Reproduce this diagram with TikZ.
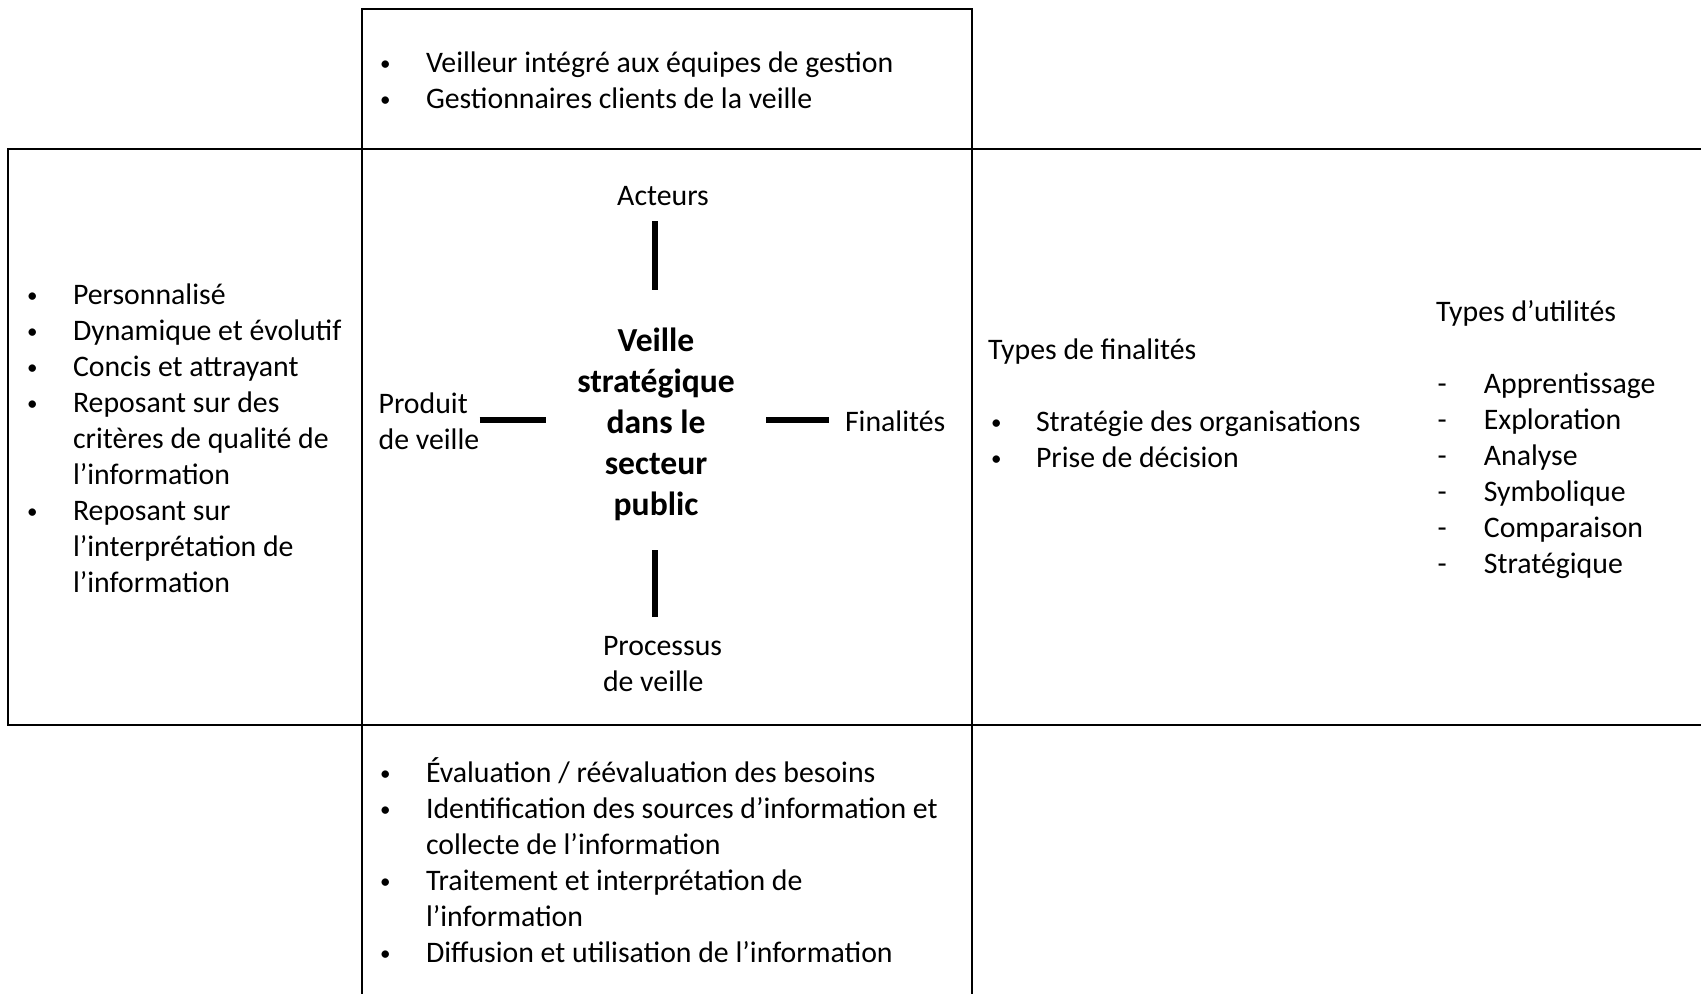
\documentclass[tikz,border=0pt]{standalone}
\usepackage{fontspec}
\setmainfont{Carlito}
\newcommand{\txt}{\fontsize{14.9}{18}\selectfont}
\newcommand{\ttl}{\fontsize{16.8}{20.5}\selectfont\bfseries}
\newcommand{\bl}{\raisebox{1pt}{\fontsize{10.5}{12}\selectfont\textbullet}}
\begin{document}
\begin{tikzpicture}[x=0.5pt,y=-0.5pt,
  frame/.style={line width=1pt, line cap=rect},
  bar/.style={line width=2.6pt},
  lbl/.style={inner sep=0pt, outer sep=0pt, anchor=base west, font=\txt},
  mid/.style={inner sep=0pt, outer sep=0pt, anchor=base, font=\txt},
]
\useasboundingbox (0,0) rectangle (1701,993);

% grid of frames
\draw[frame] (362,993) -- (362,9) -- (972,9) -- (972,993);
\draw[frame] (1701,149) -- (8,149) -- (8,725) -- (1701,725);

% top box: actors
\node[lbl] (acteurslist) at (380,72) {\begin{tabular}[t]{@{}p{23pt}@{}l@{}}
\bl & Veilleur intégré aux équipes de gestion\\
\bl & Gestionnaires clients de la veille
\end{tabular}};

% left box: product
\node[lbl] (produitlist) at (27,304) {\begin{tabular}[t]{@{}p{23pt}@{}l@{}}
\bl & Personnalisé\\
\bl & Dynamique et évolutif\\
\bl & Concis et attrayant\\
\bl & Reposant sur des\\
    & critères de qualité de\\
    & l’information\\
\bl & Reposant sur\\
    & l’interprétation de\\
    & l’information
\end{tabular}};

% centre
\node[inner sep=0pt, anchor=base, font=\ttl] (titre) at (656,351) {\begin{tabular}[t]{@{}c@{}}
Veille\\ stratégique\\ dans le\\ secteur\\ public
\end{tabular}};
\node[mid] (acteurs) at (663,205) {Acteurs};
\node[lbl] (produit) at (378.6,413.5) {\begin{tabular}[t]{@{}l@{}}Produit\\ de veille\end{tabular}};
\node[lbl] (finalites) at (845,431) {Finalités};
\node[lbl] (processus) at (603,655.5) {\begin{tabular}[t]{@{}l@{}}Processus\\ de veille\end{tabular}};

\coordinate (bt1) at (655,221); \coordinate (bt2) at (655,290);
\coordinate (bb1) at (655,550); \coordinate (bb2) at (655,617);
\coordinate (bl1) at (479.5,420); \coordinate (bl2) at (545.6,420);
\coordinate (br1) at (766,420); \coordinate (br2) at (829,420);
\draw[bar] (bt1) -- (bt2);
\draw[bar] (bb1) -- (bb2);
\draw[bar] (bl1) -- (bl2);
\draw[bar] (br1) -- (br2);

% right region: purposes and utilities
\node[lbl] (typesfin) at (988,359) {Types de finalités};
\node[lbl] (finlist) at (991,431) {\begin{tabular}[t]{@{}p{22.5pt}@{}l@{}}
\bl & Stratégie des organisations\\
\bl & Prise de décision
\end{tabular}};
\node[lbl] (typesutil) at (1436,321) {Types d’utilités};
\node[lbl] (utillist) at (1437.5,393) {\begin{tabular}[t]{@{}p{23.2pt}@{}l@{}}
- & Apprentissage\\
- & Exploration\\
- & Analyse\\
- & Symbolique\\
- & Comparaison\\
- & Stratégique
\end{tabular}};

% bottom box: process
\node[lbl] (processlist) at (380,782) {\begin{tabular}[t]{@{}p{23pt}@{}l@{}}
\bl & Évaluation / réévaluation des besoins\\
\bl & Identification des sources d’information et\\
    & collecte de l’information\\
\bl & Traitement et interprétation de\\
    & l’information\\
\bl & Diffusion et utilisation de l’information
\end{tabular}};
\end{tikzpicture}
\end{document}
